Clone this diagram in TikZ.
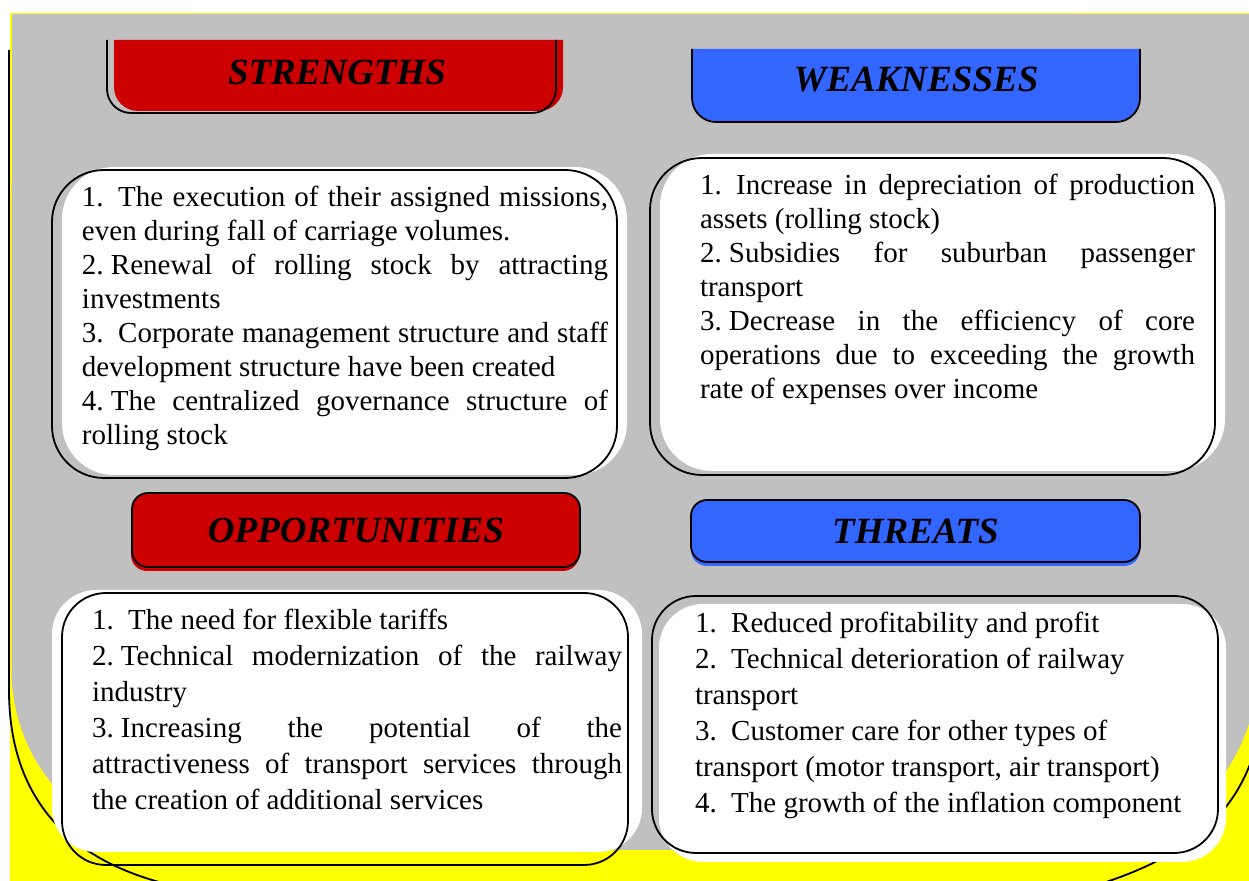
\documentclass[tikz,border=0pt]{standalone}
\usepackage{fontspec}
\setmainfont{Liberation Serif}
\usetikzlibrary{shadows}
\frenchspacing

\definecolor{bggray}{HTML}{C0C0C0}
\definecolor{bgyellow}{HTML}{FFFF00}
\definecolor{hdred}{HTML}{CC0000}
\definecolor{hdblue}{HTML}{3366FF}

\newcommand{\bodyfontA}{\fontsize{14.5}{17}\selectfont}
\newcommand{\bodyfontB}{\fontsize{14.5}{18}\selectfont}
\newcommand{\jl}[1]{\makebox[\linewidth][s]{#1}\\}
\newcommand{\nsp}{\hspace{0.25em}}
\newcommand{\wsp}{\hspace{0.5em}}

\tikzstyle{frame}=[line width=0.9pt]
\tikzstyle{headtext}=[font=\fontsize{18.5}{22}\selectfont\bfseries\itshape, inner sep=0pt]
\tikzstyle{headbox}=[draw, line width=0.9pt, rounded corners=8pt, inner sep=0pt, font=\fontsize{18.5}{22}\selectfont\bfseries\itshape]
\tikzstyle{bodybox}=[draw, line width=0.9pt, inner xsep=0pt, inner ysep=8pt]

\begin{document}
\begin{tikzpicture}[x=0.5pt, y=-0.5pt]
\useasboundingbox (0,0) rectangle (1249,881);
% background
\fill[white] (0,0) rectangle (1249,881);
\fill[bgyellow] (10,13) rectangle (1249,881);
\fill[bggray, rounded corners=90pt] (11.5,14) rectangle (1257,850);
\fill[bggray] (11.5,14) rectangle (1257,300);
\draw[frame] (9,50) -- (9,690) .. controls (9,790) and (60,860) .. (175,886);
\draw[frame] (1262,720) .. controls (1248,800) and (1205,855) .. (1080,890);

% headers
\fill[hdred, rounded corners=12pt] (114,40) -- (114,111) -- (563,111) -- (563,40);
\draw[frame, rounded corners=12pt] (107,40) -- (107,113) -- (556,113) -- (556,40);
\node[headtext] (strHead) at (337,72) {STRENGTHS};

\fill[hdblue, rounded corners=12pt] (692,49) -- (692,121) -- (1140,121) -- (1140,49);
\draw[frame, rounded corners=12pt] (692,49) -- (692,122) -- (1140,122) -- (1140,49);
\node[headtext] (weakHead) at (916,80) {WEAKNESSES};

\node[headbox, fill=hdred, minimum width=224pt, minimum height=37pt,
  general shadow={fill=hdred, shadow xshift=-0.5pt, shadow yshift=-2pt}] (oppHead) at (356,530) {OPPORTUNITIES};
\node[headbox, fill=hdblue, minimum width=224.5pt, minimum height=31pt,
  general shadow={fill=hdblue, shadow xshift=0pt, shadow yshift=-2pt}] (thrHead) at (915.5,531) {THREATS};

% white panels
\fill[white, rounded corners=26pt] (62,167) rectangle (627,475);
\fill[white, rounded corners=26pt] (660,154) rectangle (1225,471);
\fill[white, rounded corners=22pt] (52,590) rectangle (642,852);
\fill[white, rounded corners=22pt] (659,604) rectangle (1226,862);

% texts
\node[bodybox, rounded corners=26pt, font=\bodyfontA] (strBody) at (334.5,324)
  {\hspace*{15pt}\begin{minipage}[c][138pt][t]{263pt}
  \jl{1.\wsp The execution of their assigned missions,}
  even during fall of carriage volumes.\\
  \jl{2.\nsp Renewal of rolling stock by attracting}
  investments\\
  \jl{3.\wsp Corporate management structure and staff}
  development structure have been created\\
  \jl{4.\nsp The centralized governance structure of}
  rolling stock
  \end{minipage}\hspace*{4.5pt}};

\node[bodybox, rounded corners=26pt, font=\bodyfontA] (weakBody) at (932.5,316.5)
  {\hspace*{25pt}\begin{minipage}[c][142.5pt][t]{247.5pt}
  \jl{1.\wsp Increase in depreciation of production}
  assets (rolling stock)\\
  \jl{2.\nsp Subsidies for suburban passenger}
  transport\\
  \jl{3.\nsp Decrease in the efficiency of core}
  \jl{operations due to exceeding the growth}
  rate of expenses over income
  \end{minipage}\hspace*{10pt}};

\node[bodybox, rounded corners=22pt, font=\bodyfontB] (oppBody) at (345,729)
  {\hspace*{15pt}\begin{minipage}[c][120pt][t]{265pt}
  1.\wsp The need for flexible tariffs\\
  \jl{2.\nsp Technical modernization of the railway}
  industry\\
  \jl{3.\nsp Increasing the potential of the}
  \jl{attractiveness of transport services through}
  the creation of additional services
  \end{minipage}\hspace*{3pt}};

\node[bodybox, rounded corners=22pt, font=\bodyfontB] (thrBody) at (935,724.5)
  {\hspace*{21.5pt}\begin{minipage}[c][112.5pt][t]{255pt}
  1.\wsp Reduced profitability and profit\\
  2.\wsp Technical deterioration of railway\\
  transport\\
  3.\wsp Customer care for other types of\\
  transport (motor transport, air transport)\\
  4.\wsp The growth of the inflation component
  \end{minipage}\hspace*{6.5pt}};
\end{tikzpicture}
\end{document}
